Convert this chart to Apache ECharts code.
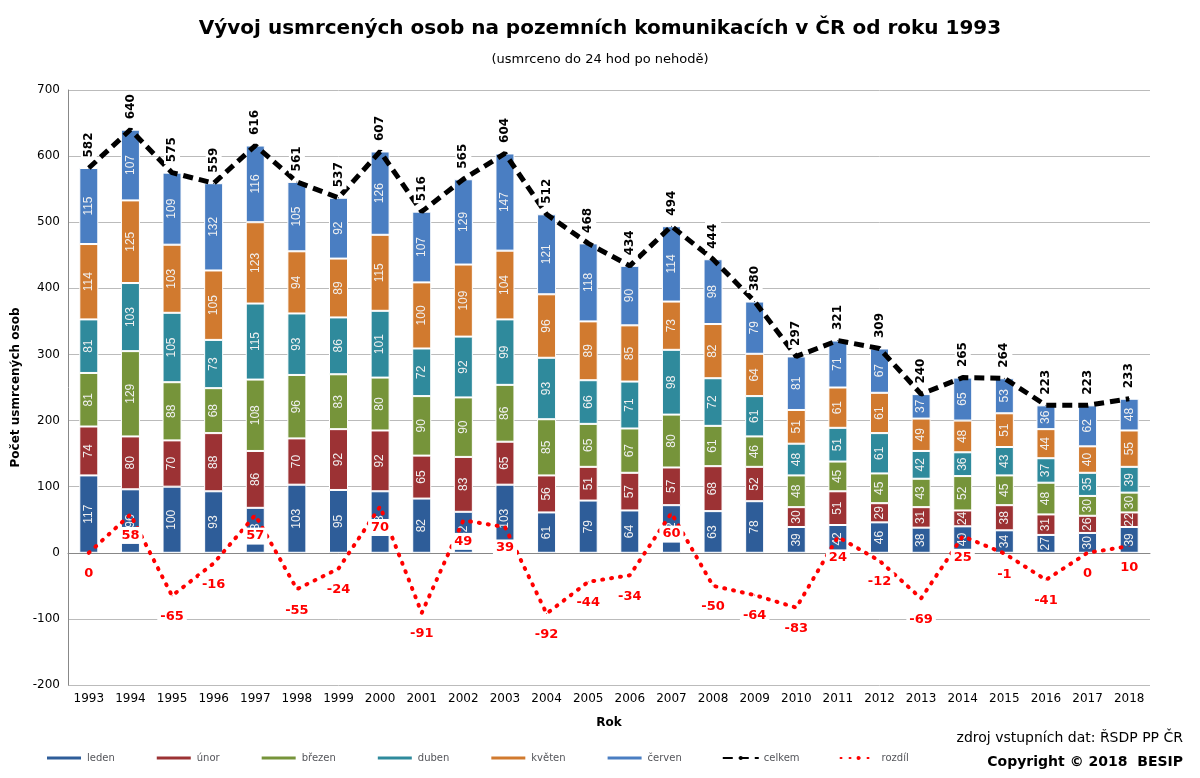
<!DOCTYPE html>
<html><head><meta charset="utf-8">
<script src="https://cdn.jsdelivr.net/npm/echarts@6/dist/echarts.min.js"></script>
<style>html,body{margin:0;padding:0;background:#fff}#c{width:1200px;height:778px}</style>
</head><body><div id="c"></div>
<script>
const years = ['1993','1994','1995','1996','1997','1998','1999','2000','2001','2002','2003','2004','2005','2006','2007','2008','2009','2010','2011','2012','2013','2014','2015','2016','2017','2018'];
const leden  = [117,96,100,93,68,103,95,93,82,62,103,61,79,64,72,63,78,39,42,46,38,40,34,27,30,39];
const unor   = [74,80,70,88,86,70,92,92,65,83,65,56,51,57,57,68,52,30,51,29,31,24,38,31,26,22];
const brezen = [81,129,88,68,108,96,83,80,90,90,86,85,65,67,80,61,46,48,45,45,43,52,45,48,30,30];
const duben  = [81,103,105,73,115,93,86,101,72,92,99,93,66,71,98,72,61,48,51,61,42,36,43,37,35,39];
const kveten = [114,125,103,105,123,94,89,115,100,109,104,96,89,85,73,82,64,51,61,61,49,48,51,44,40,55];
const cerven = [115,107,109,132,116,105,92,126,107,129,147,121,118,90,114,98,79,81,71,67,37,65,53,36,62,48];
const celkem = [582,640,575,559,616,561,537,607,516,565,604,512,468,434,494,444,380,297,321,309,240,265,264,223,223,233];
const rozdil = [0,58,-65,-16,57,-55,-24,70,-91,49,39,-92,-44,-34,60,-50,-64,-83,24,-12,-69,25,-1,-41,0,10];
const names = ['leden','únor','březen','duben','květen','červen'];
const colors = ['#2e5d99','#9c3234','#76943a','#2f8a9c','#d17a2f','#4a7ec2'];
const stacks = [leden,unor,brezen,duben,kveten,cerven];
const series = stacks.map((d,i)=>({
  name:names[i], type:'bar', stack:'m', data:d, barWidth:19,
  itemStyle:{color:colors[i], borderColor:'#fff', borderWidth:1},
  label:{show:true, position:'inside', rotate:90, color:'#f0f0f0', fontSize:12, fontFamily:'Liberation Sans'}
}));
series.push({name:'celkem', type:'line', data:celkem, symbol:'circle', symbolSize:1, showSymbol:true, z:5,
  lineStyle:{color:'#000', width:5, type:[10,6]},
  itemStyle:{color:'#000'},
  label:{show:true, position:'top', rotate:90, align:'left', verticalAlign:'middle', distance:8, fontWeight:'bold', fontSize:12, color:'#000', backgroundColor:'#fff', padding:[2,2], fontFamily:'DejaVu Sans'}});
series.push({name:'rozdíl', type:'line', data:rozdil, symbol:'circle', symbolSize:1, showSymbol:true, z:6,
  lineStyle:{color:'#f00', width:4, type:[1,8], cap:'round'},
  itemStyle:{color:'#f00'},
  label:{show:true, position:'bottom', distance:12, fontWeight:'bold', fontSize:13, color:'#f00', backgroundColor:'#fff', padding:[2,3], fontFamily:'DejaVu Sans'}});
const chart = echarts.init(document.getElementById('c'));
chart.setOption({
  animation:false,
  title:[{text:'Vývoj usmrcených osob na pozemních komunikacích v ČR od roku 1993', left:'center', top:14,
    textStyle:{fontSize:20, fontWeight:'bold', color:'#000', fontFamily:'DejaVu Sans'}},
    {text:'(usmrceno do 24 hod po nehodě)', left:'center', top:48, textStyle:{fontSize:13, fontWeight:'normal', color:'#000', fontFamily:'DejaVu Sans'}},
    {text:'zdroj vstupních dat: ŘSDP PP ČR', right:12, top:726, textStyle:{fontSize:14, fontWeight:'normal', color:'#000', fontFamily:'DejaVu Sans'}},
    {text:'Copyright © 2018  BESIP', right:12, top:750, textStyle:{fontSize:14, fontWeight:'bold', color:'#000', fontFamily:'DejaVu Sans'}}],
  legend:{bottom:10, left:40, itemWidth:36, itemHeight:5, itemGap:40, textStyle:{fontSize:10, fontFamily:'DejaVu Sans'},
    data:names.map((n,i)=>({name:n, icon:'rect'})).concat([{name:'celkem'},{name:'rozdíl'}])},
  grid:{left:68, right:50, top:90, bottom:93},
  xAxis:{type:'category', data:years, name:'Rok', nameLocation:'middle', nameGap:32,
    nameTextStyle:{fontWeight:'bold', fontSize:12, color:'#000', fontFamily:'DejaVu Sans'},
    axisLine:{lineStyle:{color:'#888'}}, axisTick:{show:false},
    axisLabel:{color:'#000', fontSize:12, interval:0, fontFamily:'DejaVu Sans'}},
  yAxis:{type:'value', min:-200, max:700, interval:100, name:'Počet usmrcených osob', nameLocation:'middle', nameGap:42,
    nameTextStyle:{fontWeight:'bold', fontSize:12, color:'#000', fontFamily:'DejaVu Sans'},
    axisLine:{show:true, lineStyle:{color:'#888'}},
    axisLabel:{color:'#000', fontSize:12, fontFamily:'DejaVu Sans'},
    splitLine:{lineStyle:{color:'#bbb'}}},
  series:series
});
</script></body></html>
